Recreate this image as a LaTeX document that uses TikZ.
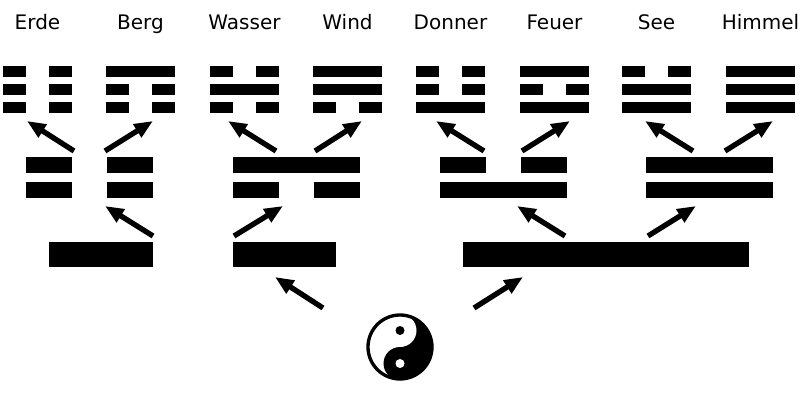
\documentclass[tikz,border=0pt]{standalone}
\usepackage{fontspec}
\setmainfont{DejaVu Sans}
\usetikzlibrary{arrows.meta}
\tikzset{
  arr/.style={line width=4pt, -{Triangle[length=14pt,width=11pt]}},
  label/.style={font=\fontsize{15}{17}\selectfont, anchor=base}
}
% one line: left x, top y, width, height, solid (1) or broken (0)
\newcommand{\gualine}[5]{%
  \ifnum#5=1
    \fill (#1,#2) rectangle ++(#3,#4);
  \else
    \fill (#1,#2) rectangle ++(#3/3,#4);
    \fill ({#1+#3*2/3},#2) rectangle ++(#3/3,#4);
  \fi}
\newcommand{\gualineb}[5]{%
  \ifnum#5=1
    \fill (#1,#2) rectangle ++(#3,#4);
  \else
    \fill (#1,#2) rectangle ++({#3*0.365},#4);
    \fill ({#1+#3*0.635},#2) rectangle ++({#3*0.365},#4);
  \fi}
\begin{document}
\begin{tikzpicture}[x=0.75pt, y=-0.75pt]
  \useasboundingbox (0,0) rectangle (800,400);
  % Trigrams with names
  \foreach \name/\lx/\a/\b/\c in {Erde/3/0/0/0, Berg/106/1/0/0, Wasser/210/0/1/0, Wind/313/1/1/0,
      Donner/416/0/0/1, Feuer/520/1/0/1, See/622/0/1/1, Himmel/726/1/1/1}{
    \node[label] (\name) at (\lx+34.5,29) {\name};
    \gualine{\lx}{66}{69}{11}{\a}
    \gualine{\lx}{84}{69}{11}{\b}
    \gualine{\lx}{102}{69}{11}{\c}
  }
  % Digrams
  \foreach \lx/\a/\b in {26/0/0, 233/1/0, 440/0/1, 646/1/1}{
    \gualineb{\lx}{157}{127}{16}{\a}
    \gualineb{\lx}{182}{127}{16}{\b}
  }
  % Yin and yang
  \fill (49,242) rectangle (153,267);
  \fill (233,242) rectangle (336,267);
  \fill (463,242) rectangle (749,267);
  % Arrows
  \foreach \sx/\ex in {74/27, 105/153, 276/228, 315/362, 484/436, 522/570, 693/645, 725/773}
    \draw[arr] (\sx,151) -- (\ex,121);
  \foreach \sx/\ex in {153/105, 234/283, 565/517, 648/696}
    \draw[arr] (\sx,236) -- (\ex,206);
  \draw[arr] (323,308) -- (275,277);
  \draw[arr] (474,308) -- (523,277);
  % Taijitu
  \begin{scope}[shift={(400,347)}, y=0.75pt]
    \fill (0,33) arc (90:-90:33) -- cycle;
    \fill[white] (0,16.5) circle (16.5);
    \fill (0,-16.5) circle (16.5);
    \fill (0,16.5) circle (4.5);
    \fill[white] (0,-16.5) circle (4.5);
    \draw[line width=2.5pt] (0,0) circle (32);
  \end{scope}
\end{tikzpicture}
\end{document}
